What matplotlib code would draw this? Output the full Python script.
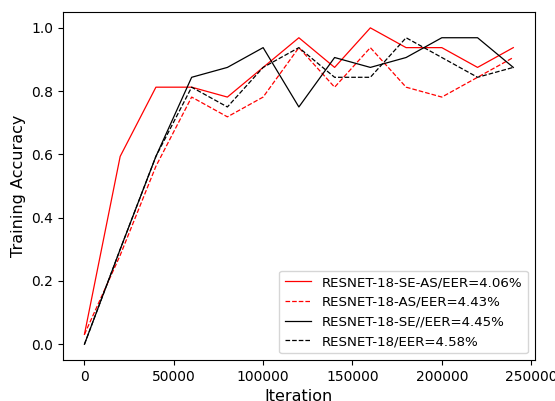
import matplotlib
matplotlib.use("Agg")
import matplotlib.pyplot as plt
import numpy as np

iterations = [0, 20000, 40000, 60000, 80000, 100000, 120000, 140000, 160000, 180000, 200000, 220000, 240000]
se_as = [0.03125, 0.59375, 0.8125, 0.8125, 0.78125, 0.875, 0.96875, 0.875, 1.0, 0.9375, 0.9375, 0.875, 0.9375]
as_only = [0.03125, 0.28125, 0.5625, 0.78125, 0.71875, 0.78125, 0.9375, 0.8125, 0.9375, 0.8125, 0.78125, 0.84375, 0.90625]
se_only = [0.0, 0.30, 0.59375, 0.84375, 0.875, 0.9375, 0.75, 0.90625, 0.875, 0.90625, 0.96875, 0.96875, 0.875]
base = [0.0, 0.30, 0.59375, 0.8125, 0.75, 0.875, 0.9375, 0.84375, 0.84375, 0.96875, 0.90625, 0.84375, 0.875]
labels = ["RESNET-18-SE-AS/EER=4.06%", "RESNET-18-AS/EER=4.43%",
          "RESNET-18-SE//EER=4.45%", "RESNET-18/EER=4.58%"]

fig = plt.figure(figsize=(5.55, 4.01), dpi=100)
ax = fig.add_axes([0.1135, 0.102, 0.85, 0.868])
ax.plot(iterations, se_as, color="red", linestyle="-", linewidth=0.9, label=labels[0])
ax.plot(iterations, as_only, color="red", linestyle="--", linewidth=0.9, label=labels[1])
ax.plot(iterations, se_only, color="black", linestyle="-", linewidth=0.9, label=labels[2])
ax.plot(iterations, base, color="black", linestyle="--", linewidth=0.9, label=labels[3])
ax.set_xlim(-12000, 252000)
ax.set_ylim(-0.05, 1.05)
ax.set_xticks([0, 50000, 100000, 150000, 200000, 250000])
ax.set_yticks([0.0, 0.2, 0.4, 0.6, 0.8, 1.0])
ax.tick_params(labelsize=10)
ax.set_xlabel("Iteration", fontsize=11.5)
ax.set_ylabel("Training Accuracy", fontsize=11.5)
ax.legend(loc="lower right", fontsize=9.6)
fig.savefig("out.png", dpi=100)
